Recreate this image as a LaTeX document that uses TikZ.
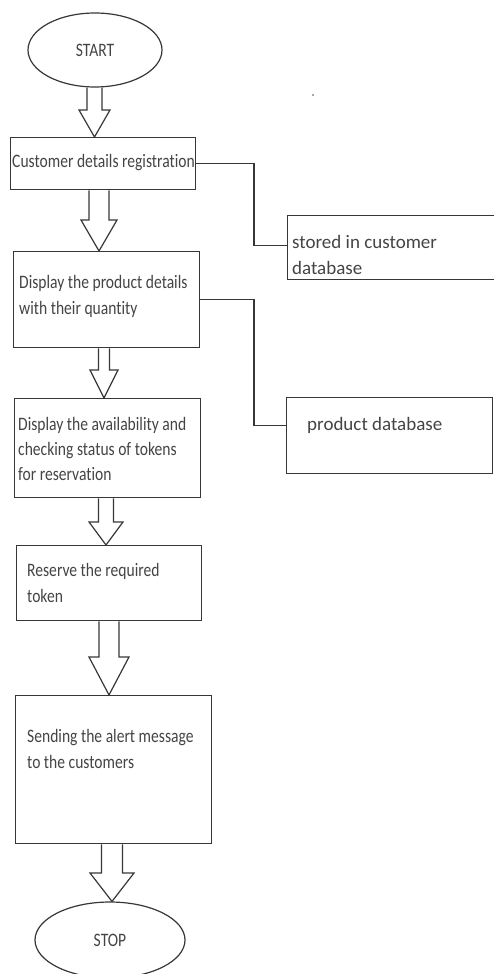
\documentclass[tikz,border=0pt]{standalone}
\usepackage{fontspec}
\setmainfont[Ligatures=CommonOff]{Carlito}
\newfontfamily\narrowfont[FakeStretch=0.82,Ligatures=CommonOff]{Carlito}
\usetikzlibrary{shapes.geometric,calc}
\definecolor{ink}{RGB}{55,55,55}
\definecolor{txt}{RGB}{68,68,68}
\newcommand\blockarr[6]{\draw[blockarrow] let \p1=(#1.south), \p2=(#2.north) in (#3-#4,\y1) -- (#3-#4,-#6) -- (#3-#5,-#6) -- (#3,\y2) -- (#3+#5,-#6) -- (#3+#4,-#6) -- (#3+#4,\y1);}
\begin{document}
\begin{tikzpicture}[x=1pt,y=1pt,
  box/.style={draw=ink,line width=1.4pt,rectangle,inner sep=0pt,anchor=north west},
  oval/.style={draw=ink,line width=1.2pt,ellipse,inner sep=0pt,text=txt,font=\narrowfont\fontsize{19}{22}\selectfont},
  lefttext/.style={anchor=west,align=left,inner sep=0pt,text=txt,font=\narrowfont\fontsize{19}{26}\selectfont},
  righttext/.style={anchor=west,align=left,inner sep=0pt,text=txt,font=\fontsize{19}{26}\selectfont},
  blockarrow/.style={draw=ink,line width=1.2pt,line join=miter},
  link/.style={draw=ink,line width=1.4pt}]
\useasboundingbox (0,0) rectangle (494,-974);

% terminals
\node[oval,minimum width=134,minimum height=74] (start) at (95,-50) {START};
\node[oval,minimum width=150,minimum height=76] (stop) at (110,-940) {STOP};

% process boxes
\node[box,minimum width=185,minimum height=52] (b1) at (10,-137) {};
\node[box,minimum width=186,minimum height=96] (b2) at (13,-251) {};
\node[box,minimum width=186,minimum height=99] (b3) at (14,-398) {};
\node[box,minimum width=185,minimum height=75] (b4) at (16,-545) {};
\node[box,minimum width=196,minimum height=148] (b5) at (15,-695) {};

% database boxes
\node[box,minimum width=210,minimum height=64] (r1) at (287,-215) {};
\node[box,minimum width=206,minimum height=76] (r2) at (286,-397) {};

% texts
\node[lefttext] (t1) at (12,-163) {Customer details registration};
\node[lefttext] (t2) at (19,-296) {Display the product details\\with their quantity};
\node[lefttext,font=\narrowfont\fontsize{19}{25}\selectfont] (t3) at (18,-448.5) {Display the availability and\\checking status of tokens\\for reservation};
\node[lefttext] (t4) at (27,-582.5) {Reserve the required\\token};
\node[lefttext] (t5) at (27,-748.5) {Sending the alert message\\to the customers};
\node[righttext] (t6) at (292,-255) {stored in customer\\database};
\node[righttext] (t7) at (307,-425) {product database};

% block arrows
\blockarr{start}{b1}{94.5}{7.5}{15.5}{110}
\blockarr{b1}{b2}{99}{10}{18}{220}
\blockarr{b2}{b3}{104}{5.5}{14}{370}
\blockarr{b3}{b4}{106}{7.5}{17}{522}
\blockarr{b4}{b5}{109}{10}{20}{657}
\blockarr{b5}{stop}{112}{10.5}{22}{873}

% connectors to databases
\coordinate (k1) at (254,-200);
\coordinate (k2) at (254,-360);
\draw[link] (b1.east) -| (k1) |- ([yshift=2.5pt]r1.west);
\draw[link] (b2.east) -| (k2) |- ([yshift=10pt]r2.west);

% stray dot
\fill[ink!60] (313,-95) circle (1.2);
\end{tikzpicture}
\end{document}
